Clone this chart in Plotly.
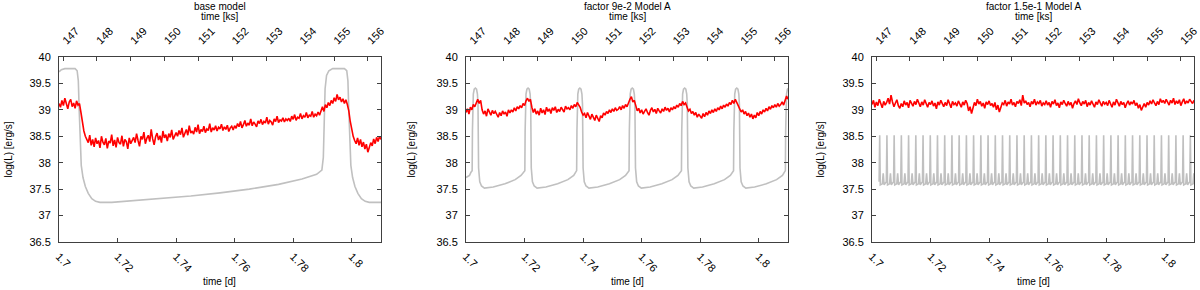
import numpy as np
import plotly.graph_objects as go

# ---------------- data ----------------
panel_titles = ["base model", "factor 9e-2 Model A", "factor 1.5e-1 Model A"]
day_ticks = [1.70, 1.72, 1.74, 1.76, 1.78, 1.80]
day_ticklabels = ["1.7", "1.72", "1.74", "1.76", "1.78", "1.8"]
ks_ticks = [147, 148, 149, 150, 151, 152, 153, 154, 155, 156]
ks_ticklabels = ["147", "148", "149", "150", "151", "152", "153", "154", "155", "156"]
y_ticks = [36.5, 37.0, 37.5, 38.0, 38.5, 39.0, 39.5, 40.0]
y_ticklabels = ["36.5", "37", "37.5", "38", "38.5", "39", "39.5", "40"]
day_range = [1.70, 1.81]
seconds_per_day_ks = 86.4

# red curves sampled on a regular time grid (days)
red_time = np.linspace(1.700, 1.810, 221)

red_base = [
    39.12, 39.05, 39.18, 39.08, 39.22, 39.10, 39.02, 39.15, 39.20, 39.06, 39.13, 39.03, 39.17, 39.09, 39.12,
    38.95, 38.75, 38.60, 38.50,
    38.45, 38.38, 38.52, 38.33, 38.44, 38.30, 38.47, 38.36, 38.42, 38.28, 38.50, 38.39, 38.34, 38.46, 38.27, 38.41,
    38.37, 38.53, 38.32, 38.43, 38.29, 38.48, 38.38, 38.35, 38.51, 38.31, 38.44, 38.40, 38.26, 38.47, 38.36, 38.42,
    38.48, 38.38, 38.55, 38.42, 38.31, 38.50, 38.44, 38.58, 38.36, 38.46, 38.52, 38.40, 38.63, 38.45, 38.34,
    38.49, 38.56, 38.43, 38.51, 38.38, 38.60, 38.47, 38.53, 38.41, 38.55, 38.48, 38.62, 38.44, 38.52, 38.57,
    38.50, 38.61, 38.53, 38.66, 38.48, 38.58, 38.63, 38.52, 38.70, 38.56, 38.60, 38.54, 38.67, 38.58, 38.72,
    38.55, 38.63, 38.59, 38.69, 38.57, 38.64, 38.61, 38.74, 38.58, 38.66, 38.62, 38.70, 38.60, 38.67, 38.64,
    38.73, 38.61, 38.68, 38.63, 38.71, 38.59, 38.66, 38.69, 38.62, 38.70,
    38.65, 38.74, 38.68, 38.78, 38.66, 38.72, 38.80, 38.69, 38.75, 38.71, 38.83, 38.70, 38.77, 38.73, 38.68,
    38.79, 38.74, 38.82, 38.72, 38.78, 38.75, 38.86, 38.73, 38.80, 38.77, 38.71, 38.83, 38.78, 38.88, 38.76,
    38.81, 38.79, 38.85, 38.77, 38.83, 38.80,
    38.84, 38.78, 38.88, 38.82, 38.91, 38.80, 38.86, 38.84, 38.93, 38.83, 38.89, 38.86, 38.95, 38.85, 38.90,
    38.88, 38.97, 38.86, 38.92, 38.89, 38.96, 38.90,
    39.00, 39.06, 38.97, 39.10, 39.04, 39.14, 39.08, 39.18, 39.12, 39.23, 39.16, 39.29, 39.19, 39.24, 39.15,
    39.21, 39.12, 39.19, 39.10,
    38.98, 38.78, 38.60, 38.50,
    38.42, 38.36, 38.47, 38.33, 38.44, 38.30, 38.39, 38.26, 38.35, 38.20, 38.29, 38.38, 38.32, 38.45, 38.36,
    38.48, 38.40, 38.50, 38.44,
]

red_9e2 = [
    38.95, 39.02, 38.92, 39.05, 39.00, 39.10, 39.06, 39.15, 39.20, 39.12, 39.18,
    39.00, 38.92, 38.98, 38.88, 39.02, 38.94, 38.90, 38.99, 38.93, 38.97,
    38.90, 38.86, 38.95, 38.89, 38.98, 38.92, 38.96, 38.88, 39.00, 38.94,
    39.00, 38.96, 39.04, 38.98, 39.06, 39.02, 39.08, 39.04, 39.12, 39.08, 39.17, 39.22,
    39.16, 39.20, 39.05, 38.95, 39.02, 38.92,
    38.98, 38.90, 39.03, 38.94, 39.00, 38.91, 39.05, 38.97, 39.02, 38.93, 39.04, 38.99, 39.06, 38.95, 39.01,
    38.97, 39.05, 39.00, 38.96, 39.07, 39.02, 39.04,
    39.00, 39.08, 39.03, 39.10, 39.06, 39.14, 39.09, 39.05, 38.96, 38.90,
    38.93, 38.85, 38.95, 38.88, 38.82, 38.92, 38.86, 38.80, 38.90, 38.84, 38.78, 38.89, 38.85, 38.94,
    38.90, 38.97, 38.93, 39.00, 38.95, 39.02, 38.97, 39.04, 38.99, 39.01, 39.06, 39.00, 39.08, 39.03, 39.10,
    39.06, 39.14, 39.20,
    39.25, 39.15, 39.18, 39.05, 38.98, 39.03,
    38.94, 39.00, 38.92, 38.97, 39.02, 38.95, 38.90, 38.99, 39.04, 38.96, 39.01, 38.93, 39.03, 38.98, 38.94,
    39.02, 38.97, 39.05, 38.99, 39.03, 38.96, 39.04,
    39.00, 39.06, 39.02, 39.09, 39.05, 39.12, 39.08, 39.16, 39.10, 39.13, 39.04, 38.98,
    39.01, 38.93, 38.97, 38.90, 38.95, 38.86, 38.92, 38.88, 38.84, 38.93, 38.87, 38.95, 38.90, 38.98, 38.93,
    39.00, 38.95, 39.02,
    38.97, 39.04, 39.00, 39.07, 39.02, 39.09, 39.05, 39.11, 39.07, 39.14, 39.10, 39.18, 39.12, 39.20, 39.15,
    39.08,
    39.02, 38.96, 39.00, 38.92, 38.97, 38.89, 38.94, 38.86, 38.92, 38.83, 38.90, 38.85, 38.95, 38.89, 38.97,
    38.92, 39.00, 38.96,
    39.03, 38.98, 39.06, 39.01, 39.08, 39.04, 39.10, 39.05, 39.12, 39.07, 39.10, 39.15, 39.09, 39.18, 39.26,
    39.20,
]

red_15e1 = [
    39.10, 39.18, 39.05, 39.15, 39.08, 39.20, 39.12, 39.04, 39.16, 39.09, 39.14, 39.22, 39.11, 39.28, 39.15, 39.06, 39.13, 39.19, 39.08, 39.03,
    39.12, 39.06, 39.17, 39.09, 39.14, 39.04, 39.18, 39.11, 39.07, 39.16, 39.10, 39.20, 39.13, 39.06, 39.15, 39.09, 39.19, 39.12, 39.05, 39.14,
    39.10, 39.17, 39.07, 39.13, 39.02, 39.15, 39.09, 39.18, 39.11, 39.06, 39.14, 39.08, 39.19, 39.12, 39.04, 39.16, 39.10, 39.13, 39.07, 39.17,
    39.11, 39.05, 39.15, 39.09, 39.18, 39.12, 38.98, 39.06, 38.93, 39.04, 39.14, 39.08, 39.20, 39.11, 39.16, 39.07, 39.13, 39.03, 39.15, 39.10,
    39.17, 39.08, 39.12, 39.05, 39.14, 39.00, 39.09, 38.96, 39.06, 39.13, 39.10, 39.18, 39.07, 39.15, 39.11, 39.20, 39.09, 39.14, 39.06, 39.16,
    39.12, 39.19, 39.08, 39.28, 39.13, 39.17, 39.10, 39.14, 39.06, 39.16, 39.11, 39.20, 39.09, 39.15, 39.12, 39.18, 39.07, 39.13, 39.10, 39.17,
    39.09, 39.14, 39.05, 39.16, 39.11, 39.19, 39.08, 39.13, 39.04, 39.15, 39.10, 39.18, 39.12, 39.07, 39.16, 39.09, 39.14, 39.03, 39.12, 39.17,
    39.10, 39.21, 39.13, 39.08, 39.16, 39.11, 39.18, 39.06, 39.14, 39.09, 39.17, 39.12, 39.05, 39.15, 39.10, 39.19, 39.13, 39.07, 39.16, 39.11,
    39.14, 39.08, 39.18, 39.12, 39.05, 39.15, 39.09, 39.20, 39.13, 39.07, 39.16, 39.10, 39.14, 39.04, 39.12, 39.17, 39.09, 39.15, 39.11, 39.18,
    39.08, 39.13, 39.03, 39.10, 38.99, 39.07, 39.12, 39.05, 39.14, 39.09, 39.17, 39.11, 39.19, 39.13, 39.08, 39.16, 39.10, 39.21, 39.14, 39.18,
    39.12, 39.20, 39.15, 39.09, 39.18, 39.13, 39.22, 39.10, 39.17, 39.12, 39.19, 39.08, 39.15, 39.21, 39.11, 39.17, 39.13, 39.20, 39.16, 39.12, 39.18,
]

# gray (model) curves
gray_base_t = [
    1.7000, 1.7008, 1.7020, 1.7055, 1.7062, 1.7066, 1.7069, 1.7072, 1.7076, 1.7082, 1.7090, 1.7100, 1.7112,
    1.7125, 1.7140, 1.7180, 1.7250, 1.7350, 1.7450, 1.7550, 1.7650, 1.7750, 1.7830, 1.7880, 1.7898,
    1.7903, 1.7906, 1.7909, 1.7914, 1.7922, 1.7935, 1.7975, 1.7983, 1.7987, 1.7990, 1.7993, 1.7997,
    1.8003, 1.8011, 1.8021, 1.8033, 1.8046, 1.8060, 1.8100,
]
gray_base_y = [
    39.72, 39.76, 39.78, 39.78, 39.74, 39.55, 39.00, 38.30, 37.95, 37.72, 37.55, 37.42, 37.32,
    37.27, 37.25, 37.25, 37.28, 37.32, 37.37, 37.43, 37.50, 37.59, 37.69, 37.78, 37.86,
    38.10, 38.80, 39.40, 39.65, 39.74, 39.78, 39.78, 39.74, 39.55, 39.00, 38.30, 37.95,
    37.72, 37.55, 37.42, 37.32, 37.27, 37.25, 37.25,
]

gray_9e2_t = [
    1.7000, 1.7012, 1.7017,
    1.7021, 1.7022, 1.7023, 1.7025, 1.7028, 1.7032, 1.7036, 1.7039, 1.7041, 1.7042, 1.7043, 1.7047, 1.7053, 1.7063, 1.7093, 1.7133, 1.7168, 1.7188, 1.7196,
    1.7201, 1.7202, 1.7203, 1.7205, 1.7208, 1.7212, 1.7216, 1.7219, 1.7221, 1.7222, 1.7223, 1.7227, 1.7233, 1.7243, 1.7273, 1.7313, 1.7348, 1.7368, 1.7376,
    1.7378, 1.7379, 1.7380, 1.7382, 1.7385, 1.7389, 1.7393, 1.7396, 1.7398, 1.7399, 1.7400, 1.7404, 1.7410, 1.7420, 1.7450, 1.7490, 1.7525, 1.7545, 1.7553,
    1.7557, 1.7558, 1.7559, 1.7561, 1.7564, 1.7568, 1.7572, 1.7575, 1.7577, 1.7578, 1.7579, 1.7583, 1.7589, 1.7599, 1.7629, 1.7669, 1.7704, 1.7724, 1.7732,
    1.7736, 1.7737, 1.7738, 1.7740, 1.7743, 1.7747, 1.7751, 1.7754, 1.7756, 1.7757, 1.7758, 1.7762, 1.7768, 1.7778, 1.7808, 1.7848, 1.7883, 1.7903, 1.7911,
    1.7914, 1.7915, 1.7916, 1.7918, 1.7921, 1.7925, 1.7929, 1.7932, 1.7934, 1.7935, 1.7936, 1.7940, 1.7946, 1.7956, 1.7986, 1.8026, 1.8061, 1.8081, 1.8089,
    1.8091, 1.8092, 1.8093, 1.8095, 1.8098, 1.8102,
]
gray_9e2_y = [
    37.72, 37.76, 37.82,
    37.85, 38.60, 39.10, 39.30, 39.39, 39.41, 39.39, 39.30, 39.10, 38.60, 37.90, 37.64, 37.56, 37.52, 37.54, 37.60, 37.68, 37.76, 37.82,
    37.85, 38.60, 39.10, 39.30, 39.39, 39.41, 39.39, 39.30, 39.10, 38.60, 37.90, 37.64, 37.56, 37.52, 37.54, 37.60, 37.68, 37.76, 37.82,
    37.85, 38.60, 39.10, 39.30, 39.39, 39.41, 39.39, 39.30, 39.10, 38.60, 37.90, 37.64, 37.56, 37.52, 37.54, 37.60, 37.68, 37.76, 37.82,
    37.85, 38.60, 39.10, 39.30, 39.39, 39.41, 39.39, 39.30, 39.10, 38.60, 37.90, 37.64, 37.56, 37.52, 37.54, 37.60, 37.68, 37.76, 37.82,
    37.85, 38.60, 39.10, 39.30, 39.39, 39.41, 39.39, 39.30, 39.10, 38.60, 37.90, 37.64, 37.56, 37.52, 37.54, 37.60, 37.68, 37.76, 37.82,
    37.85, 38.60, 39.10, 39.30, 39.39, 39.41, 39.39, 39.30, 39.10, 38.60, 37.90, 37.64, 37.56, 37.52, 37.54, 37.60, 37.68, 37.76, 37.82,
    37.85, 38.60, 39.10, 39.30, 39.39, 39.41,
]

gray_15e1_t = [
    1.70243, 1.70263, 1.70283, 1.70353, 1.70383, 1.70413,
    1.70490, 1.70510, 1.70530, 1.70600, 1.70630, 1.70660,
    1.70737, 1.70757, 1.70777, 1.70847, 1.70877, 1.70907,
    1.70983, 1.71003, 1.71023, 1.71093, 1.71123, 1.71153,
    1.71230, 1.71250, 1.71270, 1.71340, 1.71370, 1.71400,
    1.71477, 1.71497, 1.71517, 1.71587, 1.71617, 1.71647,
    1.71724, 1.71744, 1.71764, 1.71834, 1.71864, 1.71894,
    1.71971, 1.71991, 1.72011, 1.72081, 1.72111, 1.72141,
    1.72217, 1.72237, 1.72257, 1.72327, 1.72357, 1.72387,
    1.72464, 1.72484, 1.72504, 1.72574, 1.72604, 1.72634,
    1.72711, 1.72731, 1.72751, 1.72821, 1.72851, 1.72881,
    1.72958, 1.72978, 1.72998, 1.73068, 1.73098, 1.73128,
    1.73205, 1.73225, 1.73245, 1.73315, 1.73345, 1.73375,
    1.73451, 1.73471, 1.73491, 1.73561, 1.73591, 1.73621,
    1.73698, 1.73718, 1.73738, 1.73808, 1.73838, 1.73868,
    1.73945, 1.73965, 1.73985, 1.74055, 1.74085, 1.74115,
    1.74192, 1.74212, 1.74232, 1.74302, 1.74332, 1.74362,
    1.74439, 1.74459, 1.74479, 1.74549, 1.74579, 1.74609,
    1.74685, 1.74705, 1.74725, 1.74795, 1.74825, 1.74855,
    1.74932, 1.74952, 1.74972, 1.75042, 1.75072, 1.75102,
    1.75179, 1.75199, 1.75219, 1.75289, 1.75319, 1.75349,
    1.75426, 1.75446, 1.75466, 1.75536, 1.75566, 1.75596,
    1.75673, 1.75693, 1.75713, 1.75783, 1.75813, 1.75843,
    1.75919, 1.75939, 1.75959, 1.76029, 1.76059, 1.76089,
    1.76166, 1.76186, 1.76206, 1.76276, 1.76306, 1.76336,
    1.76413, 1.76433, 1.76453, 1.76523, 1.76553, 1.76583,
    1.76660, 1.76680, 1.76700, 1.76770, 1.76800, 1.76830,
    1.76907, 1.76927, 1.76947, 1.77017, 1.77047, 1.77077,
    1.77153, 1.77173, 1.77193, 1.77263, 1.77293, 1.77323,
    1.77400, 1.77420, 1.77440, 1.77510, 1.77540, 1.77570,
    1.77647, 1.77667, 1.77687, 1.77757, 1.77787, 1.77817,
    1.77894, 1.77914, 1.77934, 1.78004, 1.78034, 1.78064,
    1.78141, 1.78161, 1.78181, 1.78251, 1.78281, 1.78311,
    1.78387, 1.78407, 1.78427, 1.78497, 1.78527, 1.78557,
    1.78634, 1.78654, 1.78674, 1.78744, 1.78774, 1.78804,
    1.78881, 1.78901, 1.78921, 1.78991, 1.79021, 1.79051,
    1.79128, 1.79148, 1.79168, 1.79238, 1.79268, 1.79298,
    1.79375, 1.79395, 1.79415, 1.79485, 1.79515, 1.79545,
    1.79621, 1.79641, 1.79661, 1.79731, 1.79761, 1.79791,
    1.79868, 1.79888, 1.79908, 1.79978, 1.80008, 1.80038,
    1.80115, 1.80135, 1.80155, 1.80225, 1.80255, 1.80285,
    1.80362, 1.80382, 1.80402, 1.80472, 1.80502, 1.80532,
    1.80609, 1.80629, 1.80649, 1.80719, 1.80749, 1.80779,
    1.80855, 1.80875, 1.80895, 1.80965, 1.80995, 1.81025,
]
gray_15e1_y = [
    37.64, 38.52, 37.58, 37.60, 37.80, 37.58,
    37.64, 38.52, 37.58, 37.60, 37.80, 37.58,
    37.64, 38.52, 37.58, 37.60, 37.80, 37.58,
    37.64, 38.52, 37.58, 37.60, 37.80, 37.58,
    37.64, 38.52, 37.58, 37.60, 37.80, 37.58,
    37.64, 38.52, 37.58, 37.60, 37.80, 37.58,
    37.64, 38.52, 37.58, 37.60, 37.80, 37.58,
    37.64, 38.52, 37.58, 37.60, 37.80, 37.58,
    37.64, 38.52, 37.58, 37.60, 37.80, 37.58,
    37.64, 38.52, 37.58, 37.60, 37.80, 37.58,
    37.64, 38.52, 37.58, 37.60, 37.80, 37.58,
    37.64, 38.52, 37.58, 37.60, 37.80, 37.58,
    37.64, 38.52, 37.58, 37.60, 37.80, 37.58,
    37.64, 38.52, 37.58, 37.60, 37.80, 37.58,
    37.64, 38.52, 37.58, 37.60, 37.80, 37.58,
    37.64, 38.52, 37.58, 37.60, 37.80, 37.58,
    37.64, 38.52, 37.58, 37.60, 37.80, 37.58,
    37.64, 38.52, 37.58, 37.60, 37.80, 37.58,
    37.64, 38.52, 37.58, 37.60, 37.80, 37.58,
    37.64, 38.52, 37.58, 37.60, 37.80, 37.58,
    37.64, 38.52, 37.58, 37.60, 37.80, 37.58,
    37.64, 38.52, 37.58, 37.60, 37.80, 37.58,
    37.64, 38.52, 37.58, 37.60, 37.80, 37.58,
    37.64, 38.52, 37.58, 37.60, 37.80, 37.58,
    37.64, 38.52, 37.58, 37.60, 37.80, 37.58,
    37.64, 38.52, 37.58, 37.60, 37.80, 37.58,
    37.64, 38.52, 37.58, 37.60, 37.80, 37.58,
    37.64, 38.52, 37.58, 37.60, 37.80, 37.58,
    37.64, 38.52, 37.58, 37.60, 37.80, 37.58,
    37.64, 38.52, 37.58, 37.60, 37.80, 37.58,
    37.64, 38.52, 37.58, 37.60, 37.80, 37.58,
    37.64, 38.52, 37.58, 37.60, 37.80, 37.58,
    37.64, 38.52, 37.58, 37.60, 37.80, 37.58,
    37.64, 38.52, 37.58, 37.60, 37.80, 37.58,
    37.64, 38.52, 37.58, 37.60, 37.80, 37.58,
    37.64, 38.52, 37.58, 37.60, 37.80, 37.58,
    37.64, 38.52, 37.58, 37.60, 37.80, 37.58,
    37.64, 38.52, 37.58, 37.60, 37.80, 37.58,
    37.64, 38.52, 37.58, 37.60, 37.80, 37.58,
    37.64, 38.52, 37.58, 37.60, 37.80, 37.58,
    37.64, 38.52, 37.58, 37.60, 37.80, 37.58,
    37.64, 38.52, 37.58, 37.60, 37.80, 37.58,
    37.64, 38.52, 37.58, 37.60, 37.80, 37.58,
    37.64, 38.52, 37.58, 37.60, 37.80, 37.58,
]

# ---------------- figure ----------------
W, H = 1200, 290
FONT = "Liberation Sans, Arial, sans-serif"
RED = "#ff0000"
GRAY = "#c0c0c0"
AXC = "#404040"


def px_x(px):
    return px / W


def px_y(py):
    return (H - py) / H


panels = [
    dict(title=panel_titles[0], gt=gray_base_t, gy=gray_base_y, red=red_base, left=59, right=381, ylab_x=8),
    dict(title=panel_titles[1], gt=gray_9e2_t, gy=gray_9e2_y, red=red_9e2, left=466, right=788, ylab_x=411),
    dict(title=panel_titles[2], gt=gray_15e1_t, gy=gray_15e1_y, red=red_15e1, left=872, right=1194, ylab_x=820),
]
plot_top, plot_bottom = 57, 242
ydom = [px_y(plot_bottom), px_y(plot_top)]

fig = go.Figure()
layout = dict(
    template="none",
    width=W, height=H, margin=dict(l=0, r=0, t=0, b=0, pad=0, autoexpand=False),
    paper_bgcolor="white", plot_bgcolor="white", showlegend=False,
    font=dict(family=FONT, size=11, color="#000"),
)
annotations = []

for i, p in enumerate(panels):
    xb = "x" if i == 0 else f"x{2*i+1}"
    xt = f"x{2*i+2}"
    yy = "y" if i == 0 else f"y{i+1}"
    xb_name = "xaxis" if i == 0 else f"xaxis{2*i+1}"
    xt_name = f"xaxis{2*i+2}"
    y_name = "yaxis" if i == 0 else f"yaxis{i+1}"
    dom = [px_x(p["left"]), px_x(p["right"])]

    fig.add_trace(go.Scatter(x=p["gt"], y=p["gy"], mode="lines", xaxis=xb, yaxis=yy,
                             line=dict(color=GRAY, width=1.6), hoverinfo="skip"))
    fig.add_trace(go.Scatter(x=red_time, y=p["red"], mode="lines", xaxis=xb, yaxis=yy,
                             line=dict(color=RED, width=1.6), hoverinfo="skip"))
    fig.add_trace(go.Scatter(x=[], y=[], mode="lines", xaxis=xt, yaxis=yy, hoverinfo="skip"))

    common = dict(showgrid=False, zeroline=False, showline=True, linecolor=AXC, linewidth=1,
                  ticks="inside", ticklen=4, tickcolor=AXC, tickwidth=1, automargin=False,
                  tickfont=dict(family=FONT, size=11, color="#000"))
    layout[xb_name] = dict(common, domain=dom, anchor=yy, range=day_range,
                           tickvals=day_ticks, ticktext=day_ticklabels, tickangle=45, mirror=False,
                           ticklabelstandoff=3)
    layout[xt_name] = dict(common, overlaying=xb, anchor=yy, side="top",
                           range=[day_range[0] * seconds_per_day_ks, day_range[1] * seconds_per_day_ks],
                           tickvals=ks_ticks, ticktext=ks_ticklabels, tickangle=-45, mirror=False,
                           ticklabelstandoff=5)
    layout[y_name] = dict(common, domain=ydom, anchor=xb, range=[36.5, 40],
                          tickvals=y_ticks, ticktext=y_ticklabels, mirror="ticks",
                          ticklabelstandoff=5)

    cx = px_x((p["left"] + p["right"]) / 2)
    annotations.append(dict(text=p["title"], x=cx, y=px_y(6), xref="paper", yref="paper",
                            showarrow=False, xanchor="center", yanchor="middle",
                            font=dict(family=FONT, size=10, color="#000")))
    annotations.append(dict(text="time [ks]", x=cx, y=px_y(16), xref="paper", yref="paper",
                            showarrow=False, xanchor="center", yanchor="middle",
                            font=dict(family=FONT, size=10, color="#000")))
    annotations.append(dict(text="time [d]", x=cx, y=px_y(281), xref="paper", yref="paper",
                            showarrow=False, xanchor="center", yanchor="middle",
                            font=dict(family=FONT, size=10, color="#000")))
    annotations.append(dict(text="log(L) [erg/s]", x=px_x(p["ylab_x"]), y=sum(ydom) / 2,
                            xref="paper", yref="paper", showarrow=False, textangle=-90,
                            xanchor="center", yanchor="middle",
                            font=dict(family=FONT, size=10, color="#000")))

layout["annotations"] = annotations
fig.update_layout(**layout)
# the page is photographed from its top-left corner: drop the default body margin
fig.write_html("out.html", config={"displayModeBar": False},
               post_script="document.body.style.margin='0px';")
